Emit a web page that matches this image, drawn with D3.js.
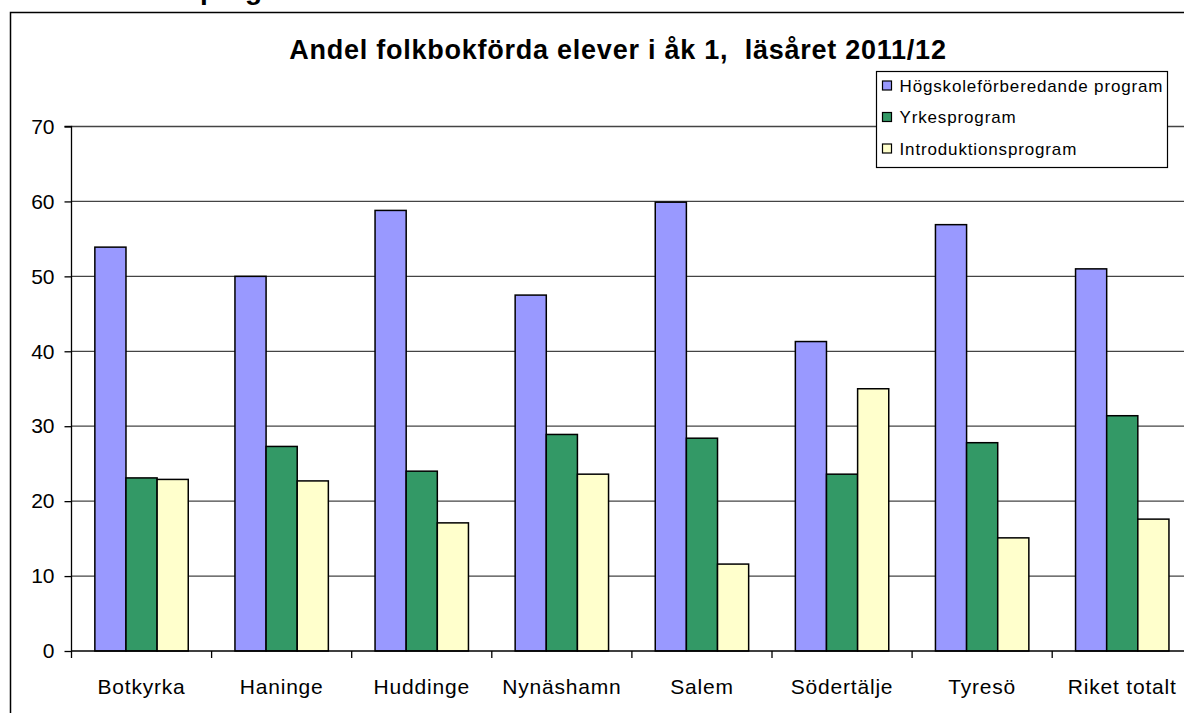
<!DOCTYPE html>
<html lang="sv">
<head>
<meta charset="UTF-8"/>
<title>Andel folkbokförda elever i åk 1</title>
<script src="https://d3js.org/d3.v7.min.js"></script>
<style>
  body { margin: 0; background: #fff; }
  svg { display: block; font-family: Arial, "Liberation Sans", sans-serif; }
</style>
</head>
<body>
<script>
    // Data
    var categories = ["Botkyrka", "Haninge", "Huddinge", "Nynäshamn", "Salem", "Södertälje", "Tyresö", "Riket totalt"];
    var seriesNames = ["Högskoleförberedande program", "Yrkesprogram", "Introduktionsprogram"];
    var hogskole = [53.9, 50.0, 58.8, 47.5, 59.9, 41.3, 56.9, 51.0];
    var yrkes = [23.1, 27.3, 24.0, 28.9, 28.4, 23.6, 27.8, 31.4];
    var intro = [22.9, 22.7, 17.1, 23.6, 11.6, 35.0, 15.1, 17.6];
    var yTicks = [0, 10, 20, 30, 40, 50, 60, 70];

    var colours = ["#9999ff", "#339966", "#ffffcc"];
    var seriesValues = [hogskole, yrkes, intro];

    var w = 1184, h = 713;
    var plotLeft = 71.5, plotTop = 126.5, plotBottom = 651;
    var band = 140.1;

    var svg = d3.select("body").append("svg")
        .attr("width", w)
        .attr("height", h);

    // clipped heading above the chart frame
    svg.append("text")
        .attr("x", 200).attr("y", -1)
        .attr("font-size", 28).attr("font-weight", "bold")
        .text("program");

    // chart frame
    svg.append("rect")
        .attr("x", 10.5).attr("y", 12.5)
        .attr("width", w + 20).attr("height", h + 20)
        .attr("fill", "#fff").attr("stroke", "#000").attr("stroke-width", 1.5);

    // title
    svg.append("text")
        .attr("x", 618).attr("y", 59)
        .attr("text-anchor", "middle")
        .attr("font-size", 27).attr("font-weight", "bold")
        .attr("letter-spacing", 0.75)
        .style("white-space", "pre")
        .text("Andel folkbokförda elever i åk 1,  läsåret 2011/12");

    // scales
    var xScale = d3.scaleBand()
        .domain(categories)
        .range([plotLeft, plotLeft + band * categories.length]);

    var bw = xScale.bandwidth();
    var xInner = d3.scaleBand()
        .domain(d3.range(seriesNames.length))
        .range([bw * 0.75 / 4.5, bw - bw * 0.75 / 4.5]);

    var yScale = d3.scaleLinear()
        .domain([0, 70])
        .range([plotBottom, plotTop]);

    // gridlines
    svg.append("g")
        .selectAll("line")
        .data(yTicks.filter(d => d > 0))
        .enter()
        .append("line")
        .attr("x1", plotLeft).attr("x2", w)
        .attr("y1", d => yScale(d)).attr("y2", d => yScale(d))
        .attr("stroke", "#444").attr("stroke-width", 1.3);

    // bars
    var rows = categories.map((c, i) => ({ cat: c, vals: seriesValues.map(s => s[i]) }));
    var groups = svg.append("g")
        .selectAll("g")
        .data(rows)
        .enter()
        .append("g")
        .attr("transform", d => `translate(${xScale(d.cat)},0)`);

    groups.selectAll("rect")
        .data(d => d.vals)
        .enter()
        .append("rect")
        .attr("x", (d, i) => xInner(i))
        .attr("y", d => yScale(d))
        .attr("width", xInner.bandwidth())
        .attr("height", d => yScale(0) - yScale(d))
        .attr("fill", (d, i) => colours[i])
        .attr("stroke", "#000")
        .attr("stroke-width", 1.5);

    // y axis
    var yAxis = d3.axisLeft(yScale)
        .tickValues(yTicks)
        .tickSize(7)
        .tickPadding(10)
        .tickFormat(d3.format("d"));

    var gy = svg.append("g")
        .attr("transform", `translate(${plotLeft},0)`)
        .call(yAxis);
    gy.select(".domain").attr("d", `M-7,${plotTop}H0V${plotBottom}`).attr("stroke", "#000").attr("stroke-width", 1.3);
    gy.selectAll(".tick line").attr("stroke", "#000").attr("stroke-width", 1.3);
    gy.selectAll(".tick text")
        .attr("font-size", 21).attr("font-family", "Arial, 'Liberation Sans', sans-serif")
        .attr("fill", "#000");

    // x axis with ticks at band boundaries
    var xAxis = d3.axisBottom(xScale).tickSize(0).tickPadding(28);
    var gx = svg.append("g")
        .attr("transform", `translate(0,${plotBottom})`)
        .call(xAxis);
    gx.select(".domain").attr("d", `M${plotLeft},0H${w + 20}`).attr("stroke", "#000").attr("stroke-width", 1.5);
    gx.selectAll(".tick text")
        .attr("font-size", 21).attr("font-family", "Arial, 'Liberation Sans', sans-serif")
        .attr("letter-spacing", 0.8)
        .attr("fill", "#000");
    gx.selectAll(".boundary")
        .data(categories)
        .enter()
        .append("line")
        .attr("class", "boundary")
        .attr("x1", d => xScale(d)).attr("x2", d => xScale(d))
        .attr("y1", 0).attr("y2", 7)
        .attr("stroke", "#000").attr("stroke-width", 1.3);

    // legend
    var legend = svg.append("g").attr("transform", "translate(876.5,71.5)");
    legend.append("rect")
        .attr("width", 291).attr("height", 96)
        .attr("fill", "#fff").attr("stroke", "#000").attr("stroke-width", 1.2);
    var items = legend.selectAll("g.item")
        .data(seriesNames)
        .enter()
        .append("g")
        .attr("class", "item")
        .attr("transform", (d, i) => `translate(0,${14 + i * 31.5})`);
    items.append("rect")
        .attr("x", 6).attr("y", -4.5)
        .attr("width", 9).attr("height", 9)
        .attr("fill", (d, i) => colours[i])
        .attr("stroke", "#000").attr("stroke-width", 1.2);
    items.append("text")
        .attr("x", 23).attr("y", 0).attr("dy", "0.36em")
        .attr("font-size", 17)
        .attr("letter-spacing", 0.85)
        .text(d => d);
</script>
</body>
</html>
